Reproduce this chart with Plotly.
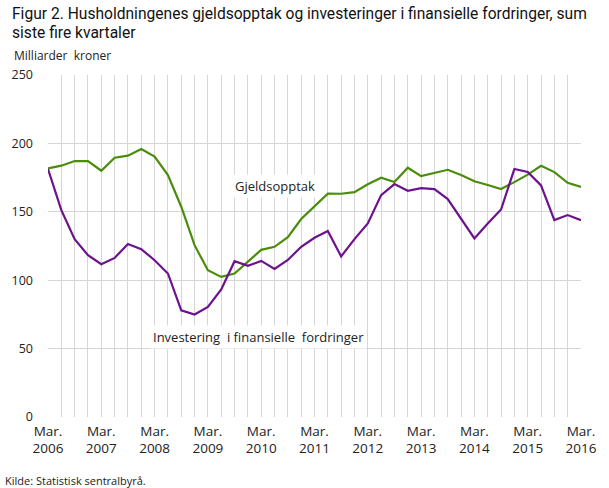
import plotly.graph_objects as go

quarters = []
for y in range(2006, 2017):
    for q in ["Mar.", "Jun.", "Sep.", "Des."]:
        quarters.append(f"{q} {y}")
quarters = quarters[:41]

gjeldsopptak = [181.8, 183.7, 187.1, 187.1, 180.0, 189.5, 191.0, 195.9, 190.3, 176.9,
                153.7, 125.6, 107.3, 102.4, 104.9, 113.4, 122.2, 124.4, 131.5, 144.7,
                154.2, 163.3, 163.2, 164.4, 170.1, 174.9, 171.7, 182.2, 176.1, 178.3,
                180.7, 176.9, 172.3, 169.6, 166.7, 171.7, 177.2, 183.6, 179.0, 171.2, 168.2]
investering = [181.3, 151.2, 130.0, 118.3, 111.7, 116.3, 126.4, 122.7, 114.6, 104.9,
               78.0, 74.9, 80.5, 93.2, 113.9, 110.5, 114.1, 108.3, 114.8, 124.4,
               131.0, 135.9, 117.4, 130.0, 141.5, 162.2, 170.3, 165.4, 167.3, 166.6,
               159.3, 144.7, 130.5, 141.5, 151.7, 181.3, 179.1, 169.3, 143.9, 147.6, 143.9]

title_lines = ["Figur 2. Husholdningenes gjeldsopptak og investeringer i finansielle fordringer, sum",
               "siste fire kvartaler"]
y_ticks = [0, 50, 100, 150, 200, 250]
x_idx = list(range(len(quarters)))
tick_idx = [i for i in x_idx if i % 4 == 0]
tick_text = [quarters[i].replace(" ", "<br>") for i in tick_idx]

green = "#4a8c0c"
purple = "#6c128c"

fig = go.Figure()
fig.add_trace(go.Scatter(x=x_idx, y=gjeldsopptak, mode="lines",
                         line=dict(color=green, width=2.2), name="Gjeldsopptak",
                         hoverinfo="skip"))
fig.add_trace(go.Scatter(x=x_idx, y=investering, mode="lines",
                         line=dict(color=purple, width=2.2), name="Investering i finansielle fordringer",
                         hoverinfo="skip"))

font_family = "Open Sans, DejaVu Sans, sans-serif"
title_family = "Roboto, sans-serif"

fig.add_annotation(x=17.0, y=168.7, text="Gjeldsopptak", showarrow=False,
                   font=dict(size=13, color="#222222", family=font_family),
                   bgcolor="white", borderpad=2)
fig.add_annotation(x=15.76, y=58.3, text="Investering  i finansielle  fordringer", showarrow=False,
                   font=dict(size=13, color="#222222", family=font_family),
                   bgcolor="white", borderpad=2)

for line, ypos in zip(title_lines, [1.178, 1.123]):
    fig.add_annotation(xref="paper", yref="paper", x=-0.0705, y=ypos, xanchor="left", yanchor="middle",
                       text=line, showarrow=False,
                       font=dict(size=15.6, color="#111111", family=title_family))

fig.add_annotation(xref="paper", yref="paper", x=-0.067, y=1.058, xanchor="left", yanchor="middle",
                   text="Milliarder  kroner", showarrow=False,
                   font=dict(size=12, color="#222222", family=font_family))
fig.add_annotation(xref="paper", yref="paper", x=-0.085, y=-0.185, xanchor="left", yanchor="middle",
                   text="Kilde: Statistisk sentralbyrå.", showarrow=False,
                   font=dict(size=11, color="#222222", family=font_family))

fig.update_layout(
    width=609, height=488,
    margin=dict(l=46, r=24, t=75, b=71),
    paper_bgcolor="white", plot_bgcolor="white",
    showlegend=False,
    font=dict(family=font_family, color="#222222"),
)
fig.update_xaxes(range=[0, 40], tickmode="array", tickvals=tick_idx, ticktext=tick_text,
                 showgrid=True, gridcolor="#d6d6d6", gridwidth=1, zeroline=False, showline=False, ticks="",
                 ticklabelstandoff=4,
                 tickfont=dict(size=13.5, color="#222222"),
                 minor=dict(dtick=1, tick0=0, showgrid=True, gridcolor="#d6d6d6", gridwidth=1))
fig.update_yaxes(range=[0, 250], tickmode="array", tickvals=y_ticks,
                 showgrid=True, gridcolor="#d6d6d6", gridwidth=1, zeroline=False,
                 showline=False, ticks="", ticklabelstandoff=14,
                 tickfont=dict(size=12.5, color="#222222"))

fig.write_html("out.html", config={"displayModeBar": False},
               post_script="document.body.style.margin='0';document.body.style.overflow='hidden';")
